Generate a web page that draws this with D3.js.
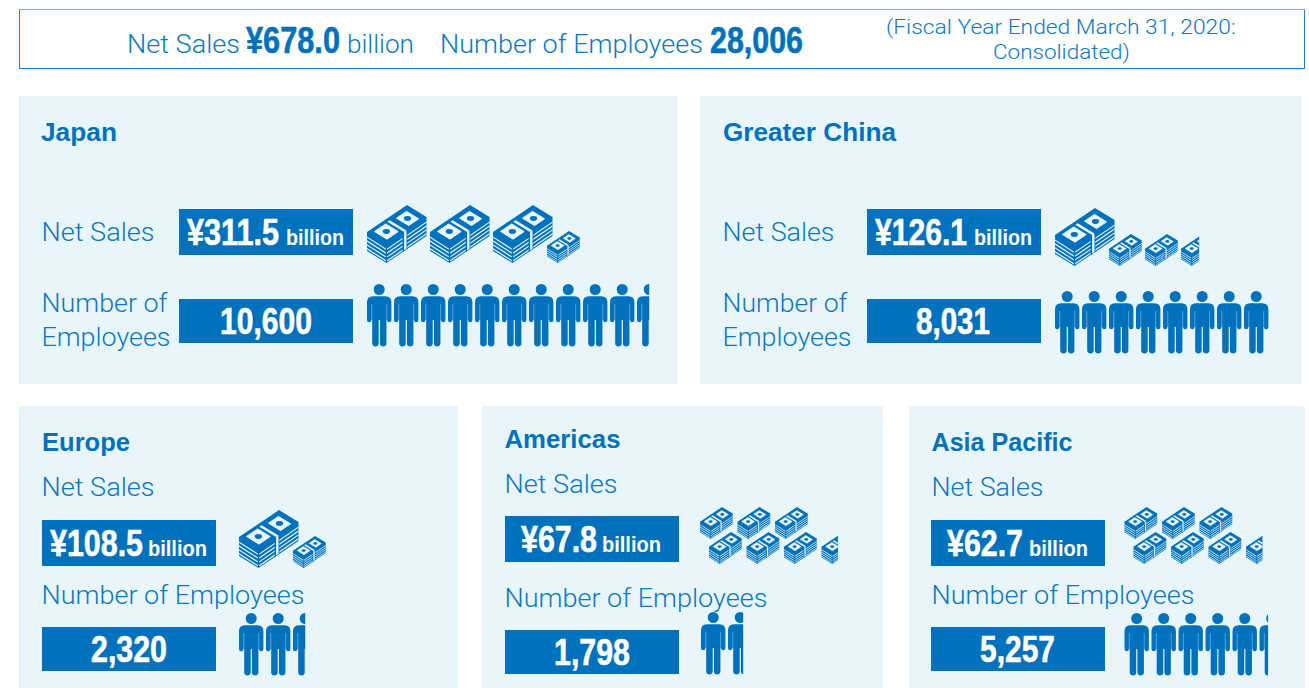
<!DOCTYPE html>
<html><head><meta charset="utf-8">
<script src="https://cdn.jsdelivr.net/npm/d3@7/dist/d3.min.js"></script>
<style>html,body{margin:0;padding:0;background:#fff;overflow:hidden}svg{display:block}</style>
</head><body><svg id="c" width="1309" height="688"></svg>
<script>
// ---- data ----
const regions = ["Japan","Greater China","Europe","Americas","Asia Pacific"];
const netSalesLabels = ["¥311.5","¥126.1","¥108.5","¥67.8","¥62.7"];
const employeeLabels = ["10,600","8,031","2,320","1,798","5,257"];
const bigBundles = [3,1,1,0,0];
const smallBundles = [1,2.55,1,6.5,6.5];
const personIcons = [10.5,8,2.5,1.62,5.35];
const totalSales = "¥678.0";
const totalEmployees = "28,006";

// ---- layout ----
const BLUE="#0071bc", PANEL="#e8f6fc", TEXT="#0b78c2";
const LIGHT="Roboto, 'Open Sans', sans-serif", BOLD="'Liberation Sans', Arial, sans-serif";
const layout = [
 {px:19,pw:658,py:96,ph:288,title:[41,141,76],net:[41.5,241,113],emp:[[41.5,312,126,"Number of"],[41.5,346,129,"Employees"]],
  box:179,boxY:209,empY:299,val:[187,92,286,58,245],num:[220,92,334],mx:367,my:205,ppx:367,ppy:284},
 {px:700,pw:601,py:96,ph:288,title:[723,141,173],net:[722.5,241,112],emp:[[722.5,312,125,"Number of"],[722.5,346,129,"Employees"]],
  box:867,boxY:209,empY:299,val:[875,92,974,58,245],num:[916,74,334],mx:1055,my:208,ppx:1055,ppy:291},
 {px:19,pw:439,py:406,ph:282,title:[42,451,88],net:[41.5,496,113],emp:[[41.5,604,263,"Number of Employees"]],
  box:42,boxY:520,empY:627,val:[50,93,148,59,556],num:[91,76,662],mx:239,my:510,ppx:239,ppy:613},
 {px:482,pw:401,py:406,ph:282,title:[504.5,448,116],net:[504.5,493,113],emp:[[504.5,607,263,"Number of Employees"]],
  box:505,boxY:516,empY:630,val:[521,76,602,59,552],num:[554,76,665],mx:700,my:507,ppx:701,ppy:612,rows:true},
 {px:909,pw:396,py:406,ph:282,title:[931.5,451,141],net:[931.5,496,112],emp:[[931.5,604,263,"Number of Employees"]],
  box:931,boxY:520,empY:627,val:[947,76,1029,59,556],num:[980,75,662],mx:1124.5,my:507,ppx:1124.5,ppy:613,rows:true}
];

const svg=d3.select("#c"), defs=svg.append("defs");

// ---- icons ----
const L=[0,27],T=[40,0],B=[19.5,39],DEPTH=19;
const iso=(a,b)=>[L[0]+a*(T[0]-L[0])+b*(B[0]-L[0]), L[1]+a*(T[1]-L[1])+b*(B[1]-L[1])];
const poly=pts=>"M"+pts.map(p=>p.map(v=>+v.toFixed(2)).join(",")).join("L")+"Z";
const quad=(a0,a1,b0,b1)=>poly([iso(a0,b0),iso(a1,b0),iso(a1,b1),iso(a0,b1)]);
const money=defs.append("g").attr("id","money");
const R=iso(1,1);
money.append("path").attr("fill",BLUE).attr("d",poly([L,T,R,[R[0],R[1]+DEPTH],[B[0],B[1]+DEPTH],[L[0],L[1]+DEPTH]]));
// stripes on the two side faces
d3.range(4).forEach(i=>{
  const d=4.4+i*3.9, w=1.4;
  money.append("path").attr("fill",PANEL).attr("d",poly([[L[0],L[1]+d],[B[0]-.7,B[1]+d],[B[0]-.7,B[1]+d+w],[L[0],L[1]+d+w]]));
  money.append("path").attr("fill",PANEL).attr("d",poly([[B[0]+.7,B[1]+d],[R[0],R[1]+d],[R[0],R[1]+d+w],[B[0]+.7,B[1]+d+w]]));
});
// bills and band on the top face
money.append("path").attr("fill",PANEL).attr("stroke",PANEL).attr("stroke-width",1).attr("stroke-linejoin","round").attr("d",quad(.1,.38,.18,.82));
money.append("path").attr("fill",PANEL).attr("stroke",PANEL).attr("stroke-width",1).attr("stroke-linejoin","round").attr("d",quad(.62,.87,.24,.86));
money.append("path").attr("fill",PANEL).attr("d",quad(.44,.5,.14,1));
money.append("path").attr("fill",BLUE).attr("d",poly([iso(.405,1),iso(.52,1),[iso(.52,1)[0],iso(.52,1)[1]+DEPTH],[iso(.405,1)[0],iso(.405,1)[1]+DEPTH]]));
money.append("path").attr("fill",PANEL).attr("d",poly([iso(.44,1),iso(.5,1),[iso(.5,1)[0],iso(.5,1)[1]+DEPTH-.6],[iso(.44,1)[0],iso(.44,1)[1]+DEPTH-.6]]));
[[.24,.5],[.745,.55]].forEach(([a,b])=>{const c=iso(a,b);
  money.append("ellipse").attr("cx",c[0]).attr("cy",c[1]).attr("rx",3.6).attr("ry",2.4).attr("fill",BLUE);});

const person=defs.append("g").attr("id","person");
person.append("circle").attr("cx",12.2).attr("cy",5.5).attr("r",5.5).attr("fill",BLUE);
person.append("path").attr("fill",BLUE).attr("d","M6,12.3H18.4Q24.4,12.3 24.4,18.3V36A2.2,2.2 0 0 1 20,36H19.4V59.7A3.3,3.3 0 0 1 12.9,59.7V36H11.7V59.7A3.3,3.3 0 0 1 5.2,59.7V36H4.4A2.2,2.2 0 0 1 0,36V18.3Q0,12.3 6,12.3Z");
person.append("path").attr("stroke",PANEL).attr("stroke-width",.7).attr("stroke-opacity",.55).attr("fill","none").attr("d","M4.8,20V36M19.7,20V36");

let clipId=0;
function useIcon(g,href,x,y,w,scale,frac){
  const sel=g.append("use").attr("href",href).attr("transform",`translate(${x},${y}) scale(${scale})`);
  if(frac<1){
    const id="clip"+(clipId++);
    defs.append("clipPath").attr("id",id).append("rect").attr("x",-1).attr("y",-2).attr("width",(w*frac)/scale+1).attr("height",80);
    sel.attr("clip-path",`url(#${id})`);
  }
}

function text(g,s,x,y,size,font,weight,fill,len,bold){
  const t=g.append("text").attr("font-family",font).attr("font-size",size)
    .attr("font-weight",weight).attr("fill",fill).text(s);
  const natural=t.node().getComputedTextLength();
  t.attr("transform",`translate(${x},${y}) scale(${len/natural},1)`);
  if(bold) t.attr("stroke",fill).attr("stroke-width",bold);
  return t;
}

// ---- header ----
const h=svg.append("g");
h.append("rect").attr("x",19.5).attr("y",9.5).attr("width",1285).attr("height",59).attr("fill","#fff").attr("stroke","#1a82c8").attr("stroke-width",1);
h.append("line").attr("x1",19).attr("x2",1305).attr("y1",9.5).attr("y2",9.5).attr("stroke","#6fb3de").attr("stroke-width",1);
text(h,"Net Sales",127,53,26,LIGHT,300,TEXT,113);
text(h,totalSales,246,52.5,37,BOLD,700,BLUE,94,.6);
text(h,"billion",347,53,26,LIGHT,300,TEXT,67);
text(h,"Number of Employees",440,53,26,LIGHT,300,TEXT,263);
text(h,totalEmployees,710,52.5,37,BOLD,700,BLUE,93,.6);
text(h,"(Fiscal Year Ended March 31, 2020:",886,33.5,20,LIGHT,300,TEXT,350);
text(h,"Consolidated)",993,59,20,LIGHT,300,TEXT,137);

// ---- panels ----
const BIG=60, SMALL=33, PERSON=24.5;
const bigX=d3.scaleLinear().domain([0,1]).range([0,63]);
const smallX=d3.scaleLinear().domain([0,1]).range([0,36]);
const rowX=d3.scaleLinear().domain([0,1]).range([0,37.5]);
const personX=d3.scaleLinear().domain([0,1]).range([0,27]);

regions.forEach((name,i)=>{
  const c=layout[i], g=svg.append("g");
  g.append("rect").attr("x",c.px).attr("y",c.py).attr("width",c.pw).attr("height",c.ph).attr("fill",PANEL);
  text(g,name,c.title[0],c.title[1],25,BOLD,700,BLUE,c.title[2]);
  text(g,"Net Sales",c.net[0],c.net[1],26,LIGHT,300,TEXT,c.net[2]);
  c.emp.forEach(e=>text(g,e[3],e[0],e[1],26,LIGHT,300,TEXT,e[2]));
  g.append("rect").attr("x",c.box).attr("y",c.boxY).attr("width",174).attr("height",46).attr("fill",BLUE);
  g.append("rect").attr("x",c.box).attr("y",c.empY).attr("width",174).attr("height",44).attr("fill",BLUE);
  text(g,netSalesLabels[i],c.val[0],c.val[4],37,BOLD,700,"#fff",c.val[1],.6);
  text(g,"billion",c.val[2],c.val[4],22,BOLD,700,"#fff",c.val[3]);
  text(g,employeeLabels[i],c.num[0],c.num[2],37,BOLD,700,"#fff",c.num[1],.6);

  // money icons
  const nb=bigBundles[i];
  d3.range(nb).forEach(k=>useIcon(g,"#money",c.mx+bigX(k),c.my,BIG,1,1));
  const sm=smallBundles[i], sc=SMALL/60;
  d3.range(Math.ceil(sm)).forEach(k=>{
    const frac=Math.min(1,sm-k);
    if(c.rows){
      const row=k<3?0:1, col=k<3?k:k-3;
      useIcon(g,"#money",c.mx+rowX(col)+(row?9:0),c.my+(row?25:0),SMALL,sc,frac);
    } else {
      useIcon(g,"#money",c.mx+bigX(nb)-9+smallX(k),c.my+26,SMALL,sc,frac);
    }
  });
  // people
  const np=personIcons[i];
  d3.range(Math.ceil(np)).forEach(k=>useIcon(g,"#person",c.ppx+personX(k),c.ppy,PERSON,1,Math.min(1,np-k)));
});
</script></body></html>
